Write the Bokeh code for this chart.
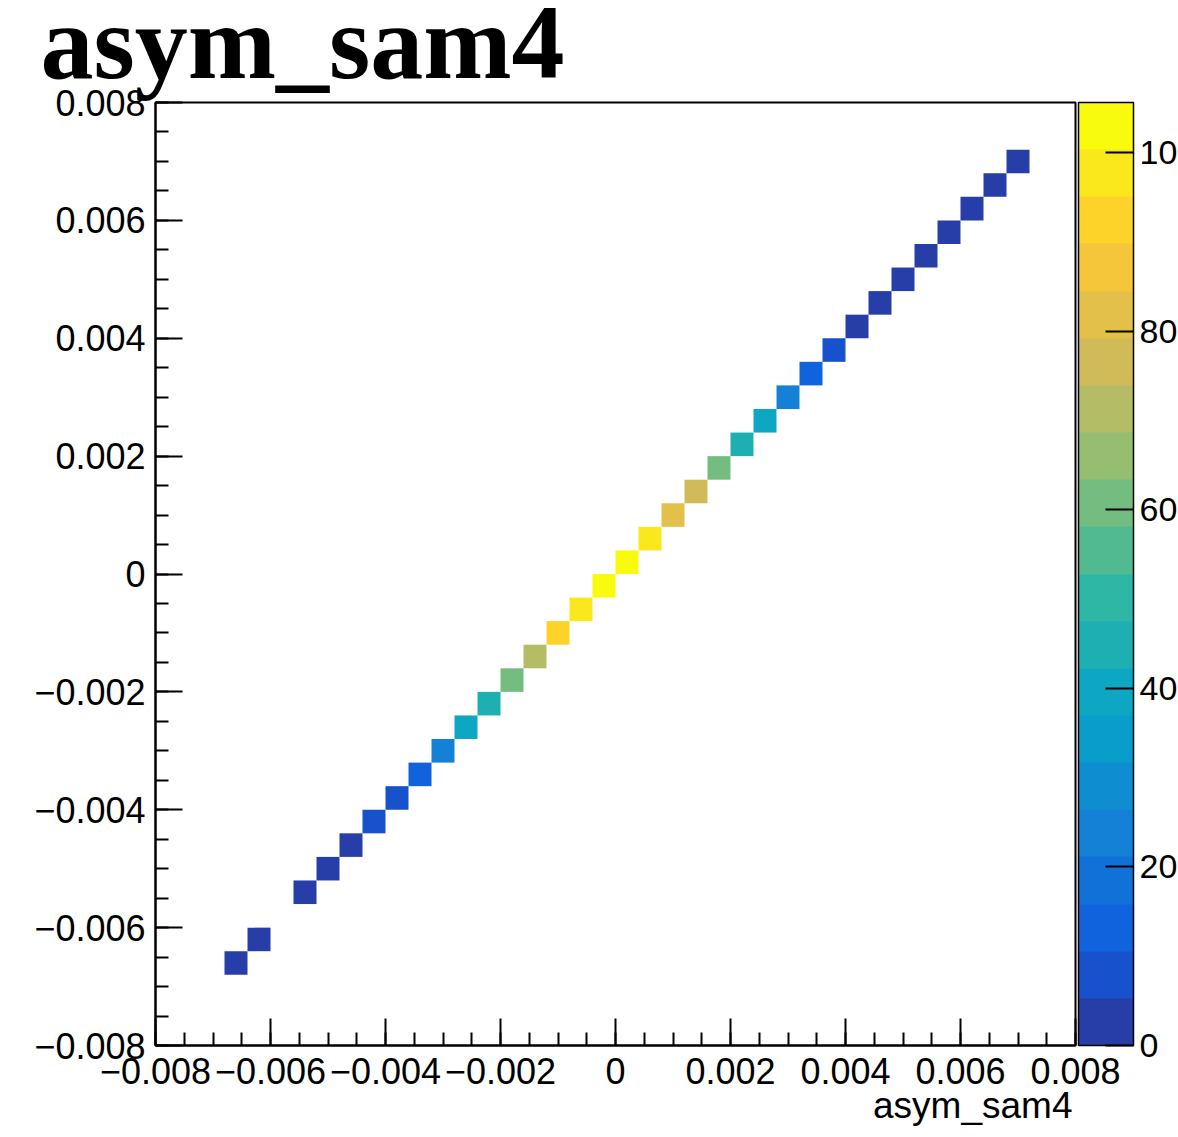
import numpy as np
from bokeh.plotting import figure
from bokeh.models import (Range1d, FixedTicker, LinearColorMapper, ColorBar,
                          Label, CustomJSTickFormatter, ColumnDataSource)
from bokeh.embed import file_html
from bokeh.resources import INLINE

# ---- data (TH2 "asym_sam4" vs "asym_sam4", 40x40 bins on [-0.008, 0.008]) ----
x_centers = [-0.0066, -0.0062, -0.0054, -0.0050, -0.0046, -0.0042, -0.0038, -0.0034,
             -0.0030, -0.0026, -0.0022, -0.0018, -0.0014, -0.0010, -0.0006, -0.0002,
             0.0002, 0.0006, 0.0010, 0.0014, 0.0018, 0.0022, 0.0026, 0.0030,
             0.0034, 0.0038, 0.0042, 0.0046, 0.0050, 0.0054, 0.0058, 0.0062,
             0.0066, 0.0070]
y_centers = list(x_centers)
counts = [1, 2, 2, 3, 4, 7, 9, 13,
          24, 40, 45, 61, 71, 93, 98, 105,
          103, 97, 82, 77, 61, 45, 40, 24,
          13, 8, 4, 4, 3, 2, 2, 1,
          1, 1]
bin_width = 0.0004
axis_min, axis_max = -0.008, 0.008
z_min, z_max = 0.0, 105.6
n_levels = 20

major_ticks = [-0.008, -0.006, -0.004, -0.002, 0.0, 0.002, 0.004, 0.006, 0.008]
z_ticks = [0, 20, 40, 60, 80, 100]
title_text = "asym_sam4"
x_title = "asym_sam4"

# ---- ROOT kBird palette, 20 contour levels ----
stops = [0.0, 0.125, 0.25, 0.375, 0.5, 0.625, 0.75, 0.875, 1.0]
red = [0.2082, 0.0592, 0.0780, 0.0232, 0.1802, 0.5301, 0.8186, 0.9956, 0.9764]
green = [0.1664, 0.3599, 0.5041, 0.6419, 0.7178, 0.7492, 0.7328, 0.7862, 0.9832]
blue = [0.5293, 0.8684, 0.8385, 0.7914, 0.6425, 0.4662, 0.3499, 0.1968, 0.0539]
ncol = 255
palette = []
for k in range(n_levels):
    idx = int((k + 0.99) * ncol / n_levels)
    t = idx / (ncol - 1)
    r = np.interp(t, stops, red)
    g = np.interp(t, stops, green)
    b = np.interp(t, stops, blue)
    palette.append("#%02x%02x%02x" % (int(round(r * 255)), int(round(g * 255)), int(round(b * 255))))

mapper = LinearColorMapper(palette=palette, low=z_min, high=z_max)

FONT = "Liberation Sans"
FS = "36px"

p = figure(frame_width=920, frame_height=943,
           min_border_left=155, min_border_right=103, min_border_top=102, min_border_bottom=92,
           x_range=Range1d(axis_min, axis_max), y_range=Range1d(axis_min, axis_max),
           output_backend="svg", toolbar_location=None,
           background_fill_color="white", border_fill_color="white")
p.grid.visible = False
p.outline_line_color = "black"
p.outline_line_width = 2

src = ColumnDataSource(dict(x=x_centers, y=y_centers, z=counts))
p.rect(x="x", y="y", width=bin_width, height=bin_width, source=src,
       fill_color={"field": "z", "transform": mapper}, line_color=None)

fmt = CustomJSTickFormatter(code="""
if (Math.abs(tick) < 1e-12) { return '0'; }
return tick.toFixed(3).replace('-', '\u2212');
""")

minor = [round(axis_min + 0.0005 * i, 4) for i in range(33)]
for ax in (p.xaxis[0], p.yaxis[0]):
    ax.ticker = FixedTicker(ticks=major_ticks, minor_ticks=minor)
    ax.formatter = fmt
    ax.major_tick_in = 27
    ax.major_tick_out = 0
    ax.minor_tick_in = 13
    ax.minor_tick_out = 0
    ax.axis_line_width = 2
    ax.major_tick_line_width = 2
    ax.minor_tick_line_width = 2
    ax.axis_line_color = "black"
    ax.major_tick_line_color = "black"
    ax.minor_tick_line_color = "black"
    ax.major_label_text_font = FONT
    ax.major_label_text_font_size = FS
    ax.major_label_text_color = "black"

p.yaxis[0].major_label_standoff = 10
p.xaxis[0].major_label_standoff = 12

cb = ColorBar(color_mapper=mapper, ticker=FixedTicker(ticks=z_ticks, minor_ticks=[]),
              width=55, height=943, location=(923, 0), padding=0, margin=0,
              major_tick_in=28, major_tick_out=0,
              major_tick_line_color="black", major_tick_line_width=2,
              minor_tick_line_color=None,
              bar_line_color="black", bar_line_width=1.5,
              label_standoff=6,
              major_label_text_font=FONT, major_label_text_font_size="34px",
              major_label_text_color="black",
              background_fill_alpha=0, border_line_color=None)
p.add_layout(cb, "center")

title = Label(x=-115, y=60, x_units="screen", y_units="screen", text=title_text,
              text_font="Liberation Serif", text_font_style="bold", text_font_size="106px",
              text_color="black", text_baseline="alphabetic", text_align="left")
p.add_layout(title, "above")

xlab = Label(x=917, y=22, x_units="screen", y_units="screen", text=x_title,
             text_font=FONT, text_font_size="37px", text_color="black",
             text_baseline="alphabetic", text_align="right")
p.add_layout(xlab, "below")

p.margin = (-15, 0, 0, 0)

open("out.html", "w").write(file_html(p, INLINE))
